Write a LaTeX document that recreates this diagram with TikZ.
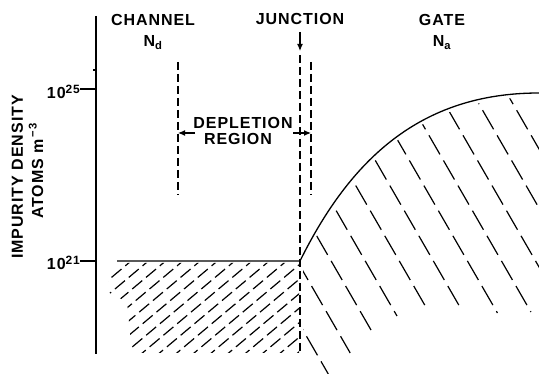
\documentclass[tikz,border=0pt]{standalone}
\usepackage{fontspec}
\newfontfamily\labelfont[LetterSpace=6]{Liberation Sans}
\usetikzlibrary{arrows.meta}
\tikzset{
  axisline/.style  = {line width=1.2pt},
  curveline/.style = {line width=1.3pt},
  edgeline/.style  = {line width=1.2pt,dash pattern=on 8pt off 4pt},
  chanhatch/.style = {line width=1.2pt,dash pattern=on 13pt off 5pt},
  gatehatch/.style = {line width=1.2pt,dash pattern=on 22pt off 7pt},
  markarr/.style   = {-{Latex[length=7pt,width=6pt]},line width=1.2pt},
  lbl/.style       = {font=\labelfont\bfseries\fontsize{16}{18}\selectfont,inner sep=0pt}
}
\newcommand{\decexp}[1]{\raisebox{5pt}{\fontsize{12}{12}\selectfont #1}}

\begin{document}
\begin{tikzpicture}[x=1pt,y=-1pt]
  \useasboundingbox (0,0) rectangle (539,374);
  % density axis
  \coordinate (ytop) at (96,16);
  \coordinate (ybot) at (96,354);
  \draw[axisline] (ytop) -- (ybot);
  \coordinate (t25) at (96,89);
  \coordinate (t21) at (96,261);
  \coordinate (tmin) at (96,70);
  \node[lbl,anchor=base east] (d25) at (80,99) {10\decexp{25}};
  \node[lbl,anchor=base east] (d21) at (80,270) {10\decexp{21}};
  \draw[axisline] (t25) -- (d25.east |- t25);
  \draw[axisline] (t21) -- (d21.east |- t21);
  \draw[axisline] (tmin) -- ++(-3,0);
  \node[lbl,rotate=90,anchor=base] (ylab1) at (23,177) {IMPURITY DENSITY};
  \node[lbl,rotate=90,anchor=base] (ylab2) at (43,171) {ATOMS m\textsuperscript{\,−3}};

  % region labels
  \node[lbl,anchor=base] (chan) at (153,26) {CHANNEL};
  \node[lbl,anchor=base] (nd)   at (153,47) {N\textsubscript{d}};
  \node[lbl,anchor=base] (junc) at (300,25) {JUNCTION};
  \node[lbl,anchor=base] (gate) at (442,26) {GATE};
  \node[lbl,anchor=base] (na)   at (442,47) {N\textsubscript{a}};
  \node[lbl,anchor=base] (depl) at (243,129) {DEPLETION};
  \node[lbl,anchor=base] (regn) at (238,145) {REGION};

  % junction and depletion edges
  \coordinate (jarr0) at (300,32);
  \coordinate (jarr1) at (300,51);
  \draw[markarr] (jarr0) -- (jarr1);
  \draw[edgeline] (178,62) -- (178,195);
  \draw[edgeline] (300,55) -- (300,354);
  \draw[edgeline] (311,62) -- (311,195);
  \coordinate (dl0) at (195,133);
  \coordinate (dl1) at (178,133);
  \coordinate (dr0) at (293,133);
  \coordinate (dr1) at (311,133);
  \draw[markarr] (dl0) -- (dl1);
  \draw[markarr] (dr0) -- (dr1);

  % doping profile
  \coordinate (flat0) at (117,261);
  \coordinate (jn)    at (300,261);
  \coordinate (gtop)  at (539,93);
  \draw[curveline] (flat0) -- (jn) .. controls (350,160) and (420,93) .. (gtop);

  % channel hatching
  \begin{scope}
    \clip (117,263) -- (299,263) -- (299,353) -- (132,353) -- (127,302) -- (104,290) -- cycle;
    \foreach \i [evaluate=\i as \c using 262+11.1*\i] in {0,...,18}
      \draw[chanhatch] ({(\c-0.766*370)/0.643},370) -- ({(\c-0.766*250)/0.643},250);
  \end{scope}

  % gate hatching
  \begin{scope}
    \clip (303,262) .. controls (353,160) and (423,97) .. (539,97) -- (539,374) -- (303,374) -- cycle;
    \foreach \k/\yend in {0/374,1/353,2/330,3/316,4/308,5/305,6/313,7/312,8/320,9/320,10/320}
      \draw[gatehatch] ({(97.3+29.5*\k+0.5*60)/0.866},60) -- ({(97.3+29.5*\k+0.5*\yend)/0.866},\yend);
  \end{scope}
\end{tikzpicture}
\end{document}
